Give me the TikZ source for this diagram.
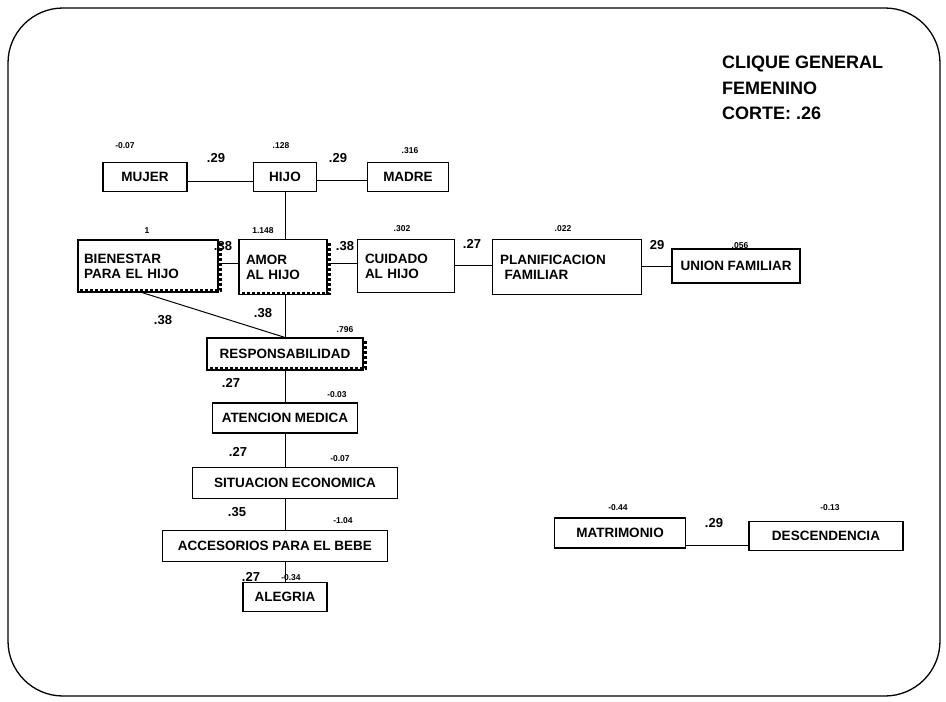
\documentclass[tikz,border=0pt]{standalone}
\usepackage{fontspec}
\setmainfont{Liberation Sans}
\begin{document}
\begin{tikzpicture}[x=1pt,y=-1pt,
  box/.style={draw,line width=1.1pt,rectangle,inner sep=0pt,font=\bfseries\fontsize{13.5}{15}\selectfont},
  val/.style={font=\bfseries\fontsize{8.5}{9}\selectfont,inner sep=0pt},
  elab/.style={font=\bfseries\fontsize{13}{14}\selectfont,inner sep=0pt},
  conn/.style={line width=1pt},
  shad/.style={line width=3pt,dotted}]
\useasboundingbox (0,0) rectangle (946,702);
\draw[line width=1.3pt,rounded corners=55pt] (8,8) rectangle (940,696);
% title
\node[anchor=north west,align=left,inner sep=0pt,font=\bfseries\fontsize{18}{25.5}\selectfont] (title) at (722,56) {CLIQUE GENERAL\\FEMENINO\\CORTE: .26};
% row 1
\node[box,minimum width=84,minimum height=29] (mujer) at (145,177) {MUJER};
\node[box,minimum width=63,minimum height=29] (hijo) at (285,177) {HIJO};
\node[box,minimum width=81,minimum height=29] (madre) at (408,177) {MADRE};
\node[val] (vmujer) at (125,146) {-0.07};
\node[val] (vhijo) at (281,146) {.128};
\node[val] (vmadre) at (410,151) {.316};
\draw[conn] (mujer.east |- 0,181) -- (hijo.west |- 0,181);
\draw[conn] (hijo.east |- 0,180) -- (madre.west |- 0,180);
\node[elab] (l1) at (216,158) {.29};
\node[elab] (l2) at (338,158) {.29};
% row 2
\node[box,minimum width=140,minimum height=52,align=left,text width=128] (bien) at (148,266) {BIENESTAR\\PARA EL HIJO};
\node[box,minimum width=88,minimum height=55,align=left,text width=74] (amor) at (283,267) {AMOR\\AL HIJO};
\node[box,minimum width=97,minimum height=53,align=left,text width=82] (cuid) at (406,266) {CUIDADO\\AL HIJO};
\node[box,minimum width=149,minimum height=55,align=left,text width=134] (plan) at (567,267) {PLANIFICACION\\\ FAMILIAR};
\node[box,minimum width=128,minimum height=34] (union) at (736,266) {UNION FAMILIAR};
\draw[shad] ([xshift=2pt,yshift=-4pt]bien.north east) -- ([xshift=2pt,yshift=2pt]bien.south east) -- ([yshift=2pt]bien.south west);
\draw[shad] ([xshift=2pt,yshift=-4pt]amor.north east) -- ([xshift=2pt,yshift=2pt]amor.south east) -- ([yshift=2pt]amor.south west);
\node[val] (vbien) at (147,231) {1};
\node[val] (vamor) at (263,231) {1.148};
\node[val] (vcuid) at (402,229) {.302};
\node[val] (vplan) at (563,229) {.022};
\node[val] (vunion) at (740,246) {.056};
\draw[conn] (hijo.south) -- (hijo.south |- amor.north);
\draw[conn] (bien.east |- 0,263) -- (amor.west |- 0,263);
\draw[conn] (amor.east |- 0,263) -- (cuid.west |- 0,263);
\draw[conn] (cuid.east |- 0,265) -- (plan.west |- 0,265);
\draw[conn] (plan.east |- 0,266) -- (union.west |- 0,266);
\node[elab] (l3) at (223,246) {.38};
\node[elab] (l4) at (345,246) {.38};
\node[elab] (l5) at (472,244) {.27};
\node[elab] (l6) at (657,245) {29};
% column
\node[box,minimum width=156,minimum height=32] (resp) at (285,354) {RESPONSABILIDAD};
\draw[shad] ([xshift=2pt,yshift=-4pt]resp.north east) -- ([xshift=2pt,yshift=2pt]resp.south east) -- ([yshift=2pt]resp.south west);
\node[val] (vresp) at (345,330) {.796};
\draw[conn] (amor.south -| hijo.south) -- (resp.north);
\draw[conn] ([xshift=-6pt]bien.south) -- (resp.north);
\node[elab] (l7) at (263,313) {.38};
\node[elab] (l8) at (163,320) {.38};
\node[box,minimum width=145,minimum height=30] (aten) at (285,418) {ATENCION MEDICA};
\node[val] (vaten) at (337,395) {-0.03};
\draw[conn] (resp.south) -- (aten.north);
\node[elab] (l9) at (231,383) {.27};
\node[box,minimum width=205,minimum height=31] (sit) at (295,483) {SITUACION ECONOMICA};
\node[val] (vsit) at (340,459) {-0.07};
\draw[conn] (aten.south) -- (aten.south |- sit.north);
\node[elab] (l10) at (238,452) {.27};
\node[box,minimum width=225,minimum height=31] (acc) at (275,546) {ACCESORIOS PARA EL BEBE};
\node[val] (vacc) at (343,521) {-1.04};
\draw[conn] (aten.south |- sit.south) -- (aten.south |- acc.north);
\node[elab] (l11) at (237,512) {.35};
\node[box,minimum width=84,minimum height=29] (aleg) at (285,597) {ALEGRIA};
\node[val] (valeg) at (291,578) {-0.34};
\draw[conn] (aleg.north |- acc.south) -- (aleg.north);
\node[elab] (l12) at (251,577) {.27};
% right pair
\node[box,minimum width=131,minimum height=30] (matr) at (620,533) {MATRIMONIO};
\node[box,minimum width=154,minimum height=29] (desc) at (826,536) {DESCENDENCIA};
\node[val] (vmatr) at (618,508) {-0.44};
\node[val] (vdesc) at (830,508) {-0.13};
\draw[conn] (matr.east |- 0,545) -- (desc.west |- 0,545);
\node[elab] (l13) at (714,523) {.29};
\end{tikzpicture}
\end{document}
